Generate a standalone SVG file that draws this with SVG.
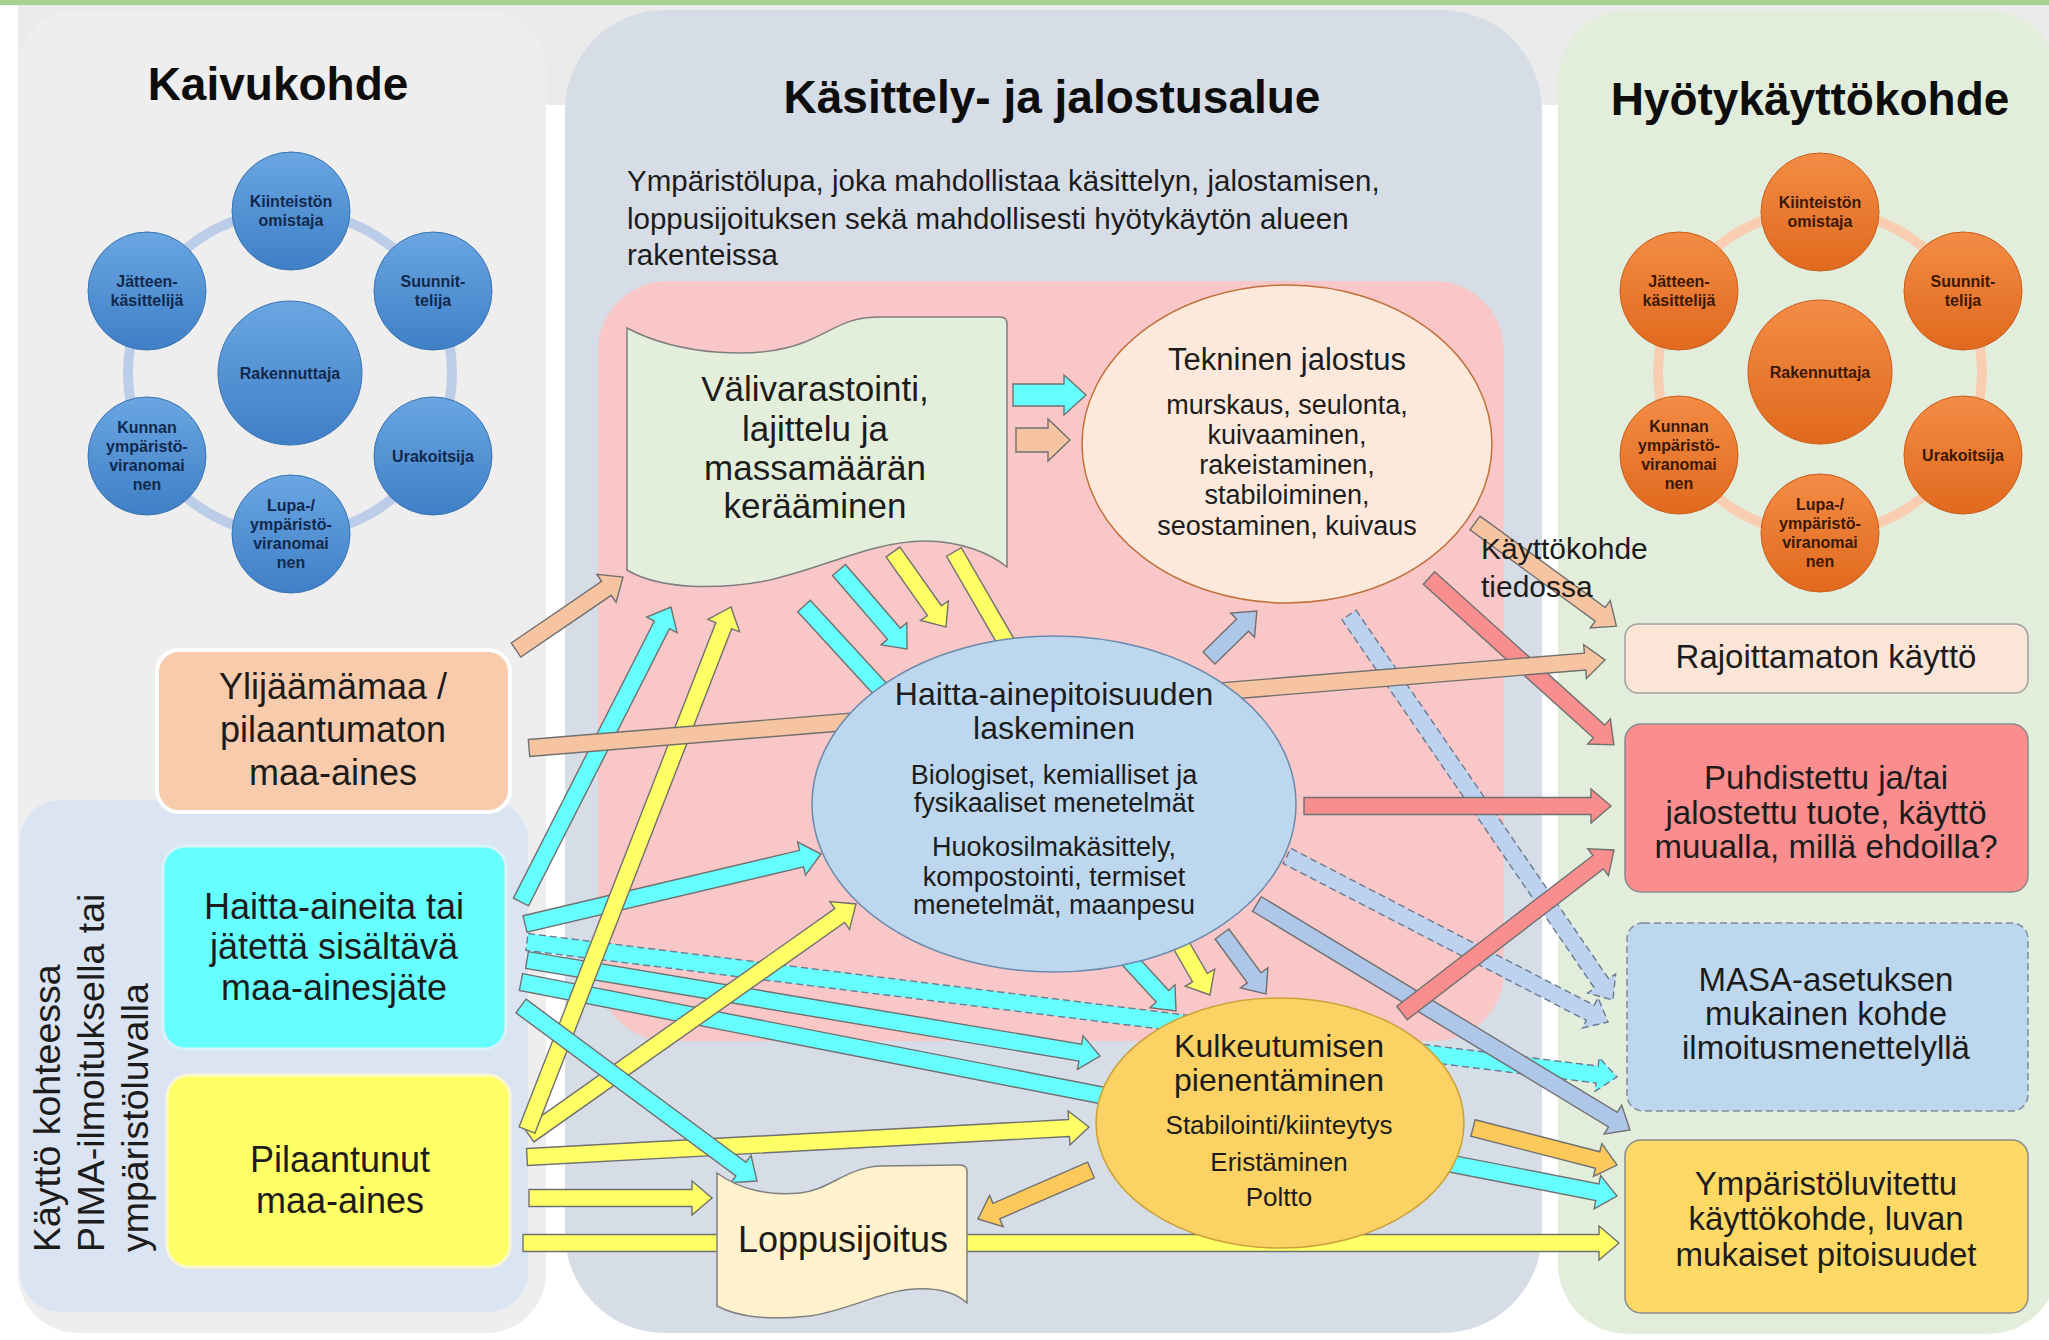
<svg xmlns="http://www.w3.org/2000/svg" width="2049" height="1340" viewBox="0 0 2049 1340">
<defs>
<linearGradient id="gb" x1="0" y1="0" x2="0" y2="1"><stop offset="0" stop-color="#6aa6e2"/><stop offset="1" stop-color="#3f7fc6"/></linearGradient>
<linearGradient id="gor" x1="0" y1="0" x2="0" y2="1"><stop offset="0" stop-color="#f48c45"/><stop offset="1" stop-color="#e0691e"/></linearGradient>
<style>
text{font-family:"Liberation Sans",Arial,sans-serif;fill:#1c1c1c}
.h{font-weight:bold;font-size:46px;text-anchor:middle;fill:#0d0d0d}
.c{font-size:16px;font-weight:bold;text-anchor:middle}
.cb{fill:#11294d}
.co{fill:#3b1805}
.m{text-anchor:middle}
.bc{fill:url(#gb);stroke:#3a73b0;stroke-width:1}
.oc{fill:url(#gor);stroke:#c85f1c;stroke-width:1}
.a{stroke:#707070;stroke-width:1.4;stroke-linejoin:miter}
.d{stroke-dasharray:7 4;stroke:#6b7a90}
.cy{fill:#66ffff}
.ye{fill:#ffff66}
.pe{fill:#f6c4a0}
.pk{fill:#f88e8e}
.lb{fill:#aec6e7}
.lbd{fill:#bcd2ee}
.gd{fill:#fdc95b}
.b36{font-size:36px;text-anchor:middle}
.b33{font-size:33px;text-anchor:middle}
</style>
</defs>

<!-- background -->
<rect x="0" y="0" width="2049" height="1340" fill="#ffffff"/>
<rect x="18" y="4" width="2031" height="101" fill="#ebebeb"/>
<rect x="0" y="0" width="2049" height="5" fill="#a9d18e"/>

<!-- panels -->
<g id="panel-kaivukohde">
<rect x="18" y="10" width="528" height="1323" rx="60" fill="#eeeeee"/>
<text class="h" x="278" y="100">Kaivukohde</text>
</g>
<g id="panel-kasittely">
<rect x="565" y="10" width="977" height="1323" rx="100" fill="#d7dde7"/>
<text class="h" x="1052" y="113">Käsittely- ja jalostusalue</text>
<text x="627" y="191" font-size="29.5" fill="#333">Ympäristölupa, joka mahdollistaa käsittelyn, jalostamisen,</text>
<text x="627" y="229" font-size="29.5" fill="#333">loppusijoituksen sekä mahdollisesti hyötykäytön alueen</text>
<text x="627" y="265" font-size="29.5" fill="#333">rakenteissa</text>
<rect x="598" y="281" width="906" height="760" rx="70" fill="#f9c7c7"/>
</g>
<g id="panel-hyotykaytto">
<rect x="1558" y="10" width="500" height="1324" rx="70" fill="#e2eedb"/>
<text class="h" x="1810" y="115">Hyötykäyttökohde</text>
</g>

<!-- left actor cluster -->
<g id="actors-kaivukohde">
<circle cx="290" cy="373" r="162" fill="none" stroke="#bccde9" stroke-width="10"/>
<circle class="bc" cx="291" cy="211" r="59"/>
<text class="c cb" x="291" y="207">Kiinteistön</text><text class="c cb" x="291" y="226">omistaja</text>
<circle class="bc" cx="433" cy="291" r="59"/>
<text class="c cb" x="433" y="287">Suunnit-</text><text class="c cb" x="433" y="306">telija</text>
<circle class="bc" cx="433" cy="456" r="59"/>
<text class="c cb" x="433" y="462">Urakoitsija</text>
<circle class="bc" cx="291" cy="534" r="59"/>
<text class="c cb" x="291" y="511">Lupa-/</text><text class="c cb" x="291" y="530">ympäristö-</text><text class="c cb" x="291" y="549">viranomai</text><text class="c cb" x="291" y="568">nen</text>
<circle class="bc" cx="147" cy="456" r="59"/>
<text class="c cb" x="147" y="433">Kunnan</text><text class="c cb" x="147" y="452">ympäristö-</text><text class="c cb" x="147" y="471">viranomai</text><text class="c cb" x="147" y="490">nen</text>
<circle class="bc" cx="147" cy="291" r="59"/>
<text class="c cb" x="147" y="287">Jätteen-</text><text class="c cb" x="147" y="306">käsittelijä</text>
<circle class="bc" cx="290" cy="373" r="72"/>
<text class="c cb" x="290" y="379">Rakennuttaja</text>
</g>

<!-- right actor cluster -->
<g id="actors-hyotykaytto">
<circle cx="1820" cy="372" r="162" fill="none" stroke="#f8cdb2" stroke-width="10"/>
<circle class="oc" cx="1820" cy="212" r="59"/>
<text class="c co" x="1820" y="208">Kiinteistön</text><text class="c co" x="1820" y="227">omistaja</text>
<circle class="oc" cx="1963" cy="291" r="59"/>
<text class="c co" x="1963" y="287">Suunnit-</text><text class="c co" x="1963" y="306">telija</text>
<circle class="oc" cx="1963" cy="455" r="59"/>
<text class="c co" x="1963" y="461">Urakoitsija</text>
<circle class="oc" cx="1820" cy="533" r="59"/>
<text class="c co" x="1820" y="510">Lupa-/</text><text class="c co" x="1820" y="529">ympäristö-</text><text class="c co" x="1820" y="548">viranomai</text><text class="c co" x="1820" y="567">nen</text>
<circle class="oc" cx="1679" cy="455" r="59"/>
<text class="c co" x="1679" y="432">Kunnan</text><text class="c co" x="1679" y="451">ympäristö-</text><text class="c co" x="1679" y="470">viranomai</text><text class="c co" x="1679" y="489">nen</text>
<circle class="oc" cx="1679" cy="291" r="59"/>
<text class="c co" x="1679" y="287">Jätteen-</text><text class="c co" x="1679" y="306">käsittelijä</text>
<circle class="oc" cx="1820" cy="372" r="72"/>
<text class="c co" x="1820" y="378">Rakennuttaja</text>
</g>

<!-- left sub-panel -->
<g id="kaytto-kohteessa">
<rect x="20" y="800" width="508" height="512" rx="40" fill="#dae4f2"/>
<text font-size="37.5" transform="translate(60,1252) rotate(-90)">Käyttö kohteessa</text>
<text font-size="37.5" transform="translate(104,1252) rotate(-90)">PIMA-ilmoituksella tai</text>
<text font-size="37.5" transform="translate(148,1252) rotate(-90)">ympäristöluvalla</text>
</g>

<!-- connectors -->
<g id="connectors">
<path class="a cy d" transform="translate(527,942) rotate(7.06)" d="M0,-8.5H1078.3V-17L1098.3,0L1078.3,17V8.5H0Z"/>
<path class="a cy" transform="translate(521,982) rotate(11.05)" d="M0,-8.5H1096.7V-17L1116.7,0L1096.7,17V8.5H0Z"/>
<path class="a cy" transform="translate(527,960) rotate(9.51)" d="M0,-8.5H561V-17L581,0L561,17V8.5H0Z"/>
<path class="a cy" transform="translate(521,902) rotate(-63.05)" d="M0,-8.5H310.9V-17L330.9,0L310.9,17V8.5H0Z"/>
<path class="a cy" transform="translate(525,924) rotate(-13.3)" d="M0,-8.5H284.2V-17L304.2,0L284.2,17V8.5H0Z"/>
<path class="a cy" transform="translate(804,606) rotate(47.43)" d="M0,-8.5H529.9V-17L549.9,0L529.9,17V8.5H0Z"/>
<path class="a cy" transform="translate(839,570) rotate(49.27)" d="M0,-8.5H84.2V-17L104.2,0L84.2,17V8.5H0Z"/>
<path class="a lbd d" transform="translate(1349,615) rotate(55.57)" d="M0,-8.5H446.8V-17L466.8,0L446.8,17V8.5H0Z"/>
<path class="a lbd d" transform="translate(1287,856) rotate(27.34)" d="M0,-8.5H341.4V-17L361.4,0L341.4,17V8.5H0Z"/>
<path class="a lb" transform="translate(1257,904) rotate(31.21)" d="M0,-8.5H416.1V-17L436.1,0L416.1,17V8.5H0Z"/>
<path class="a lb" transform="translate(1209,658) rotate(-44.4)" d="M0,-8.5H47V-17L67,0L47,17V8.5H0Z" fill="#8fb4e2"/>
<path class="a lb" transform="translate(1222,934) rotate(53.7)" d="M0,-8.5H54.4V-17L74.4,0L54.4,17V8.5H0Z"/>
<path class="a ye" transform="translate(523,1243)" d="M0,-8.5H1076V-17L1096,0L1076,17V8.5H0Z"/>
<path class="a ye" transform="translate(529,1198)" d="M0,-8.5H163V-17L183,0L163,17V8.5H0Z"/>
<path class="a ye" transform="translate(527,1157) rotate(-3.06)" d="M0,-8.5H542.8V-17L562.8,0L542.8,17V8.5H0Z"/>
<path class="a ye" transform="translate(529,1135) rotate(-35.24)" d="M0,-8.5H380.4V-17L400.4,0L380.4,17V8.5H0Z"/>
<path class="a ye" transform="translate(527,1130) rotate(-68.69)" d="M0,-8.5H541.4V-17L561.4,0L541.4,17V8.5H0Z"/>
<path class="a ye" transform="translate(893,552) rotate(54.75)" d="M0,-8.5H71.8V-17L91.8,0L71.8,17V8.5H0Z"/>
<path class="a ye" transform="translate(954,552) rotate(59.98)" d="M0,-8.5H491.6V-17L511.6,0L491.6,17V8.5H0Z"/>
<path class="a cy" transform="translate(521,1006) rotate(36.56)" d="M0,-8.5H273.8V-17L293.8,0L273.8,17V8.5H0Z"/>
<path class="a pk" transform="translate(1429,578) rotate(42.07)" d="M0,-8.5H229V-17L249,0L229,17V8.5H0Z"/>
<path class="a pk" transform="translate(1304,806)" d="M0,-8.5H287V-17L307,0L287,17V8.5H0Z"/>
<path class="a pk" transform="translate(1402,1013) rotate(-37.56)" d="M0,-8.5H247.4V-17L267.4,0L247.4,17V8.5H0Z"/>
<path class="a pe" transform="translate(529,748) rotate(-4.68)" d="M0,-8.5H1059.6V-17L1079.6,0L1059.6,17V8.5H0Z"/>
<path class="a pe" transform="translate(516,650) rotate(-34.3)" d="M0,-8.5H109.5V-17L129.5,0L109.5,17V8.5H0Z"/>
<path class="a pe" transform="translate(1475,523) rotate(36.1)" d="M0,-8.5H155V-17L175,0L155,17V8.5H0Z"/>
<path class="a pe" transform="translate(1016,440)" d="M0,-12H32V-21L54,0L32,21V12H0Z"/>
<path class="a cy" transform="translate(1013,395)" d="M0,-11H51V-20L73,0L51,20V11H0Z"/>
<path class="a gd" transform="translate(1473,1128) rotate(14.41)" d="M0,-8.5H128.7V-17L148.7,0L128.7,17V8.5H0Z"/>
<path class="a gd" transform="translate(1091,1170) rotate(156.55)" d="M0,-8.5H103.2V-17L123.2,0L103.2,17V8.5H0Z"/>
</g>

<!-- source boxes -->
<g id="ylijaamamaa">
<rect x="157" y="650" width="353" height="162" rx="22" fill="#f8cbad" stroke="#ffffff" stroke-width="4"/>
<text class="b36" x="333" y="699">Ylijäämämaa /</text>
<text class="b36" x="333" y="742">pilaantumaton</text>
<text class="b36" x="333" y="785">maa-aines</text>
</g>
<g id="haitta-aineita">
<rect x="163" y="846" width="343" height="203" rx="22" fill="#66ffff" stroke="#d8f2f5" stroke-width="3"/>
<text class="b36" x="334" y="919" fill="#0e3b4a">Haitta-aineita tai</text>
<text class="b36" x="334" y="959" fill="#0e3b4a">jätettä sisältävä</text>
<text class="b36" x="334" y="1000" fill="#0e3b4a">maa-ainesjäte</text>
</g>
<g id="pilaantunut">
<rect x="167" y="1075" width="343" height="192" rx="22" fill="#ffff66" stroke="#fbf7cf" stroke-width="3"/>
<text class="b36" x="340" y="1172">Pilaantunut</text>
<text class="b36" x="340" y="1213">maa-aines</text>
</g>

<!-- processing nodes -->
<g id="valivarastointi">
<path d="M627,328 C680,356 760,360 805,342 C835,330 845,317 880,317 L1000,317 Q1007,317 1007,324 V567 C990,553 960,541 925,541 C870,542 830,566 770,580 C720,590 660,590 627,570 Z" fill="#e3eedb" stroke="#7f7f7f" stroke-width="1.5"/>
<text x="815" y="401" font-size="35" class="m">Välivarastointi,</text>
<text x="815" y="441" font-size="35" class="m">lajittelu ja</text>
<text x="815" y="480" font-size="35" class="m">massamäärän</text>
<text x="815" y="518" font-size="35" class="m">kerääminen</text>
</g>
<g id="tekninen-jalostus">
<ellipse cx="1287" cy="444" rx="205" ry="159" fill="#fce9dc" stroke="#c0703a" stroke-width="1.5"/>
<text x="1287" y="370" font-size="31" class="m">Tekninen jalostus</text>
<text x="1287" y="414" font-size="27" class="m">murskaus, seulonta,</text>
<text x="1287" y="444" font-size="27" class="m">kuivaaminen,</text>
<text x="1287" y="474" font-size="27" class="m">rakeistaminen,</text>
<text x="1287" y="504" font-size="27" class="m">stabiloiminen,</text>
<text x="1287" y="535" font-size="27" class="m">seostaminen, kuivaus</text>
</g>
<g id="haitta-ainepitoisuus">
<ellipse cx="1054" cy="804" rx="242" ry="168" fill="#bdd7ee" stroke="#6a89ad" stroke-width="1.5"/>
<text x="1054" y="705" font-size="32" class="m">Haitta-ainepitoisuuden</text>
<text x="1054" y="739" font-size="32" class="m">laskeminen</text>
<text x="1054" y="784" font-size="27" class="m">Biologiset, kemialliset ja</text>
<text x="1054" y="812" font-size="27" class="m">fysikaaliset menetelmät</text>
<text x="1054" y="856" font-size="27" class="m">Huokosilmakäsittely,</text>
<text x="1054" y="886" font-size="27" class="m">kompostointi, termiset</text>
<text x="1054" y="914" font-size="27" class="m">menetelmät, maanpesu</text>
</g>
<g id="kulkeutuminen">
<ellipse cx="1280" cy="1123" rx="184" ry="125" fill="#fdd264" stroke="#c9a23a" stroke-width="1.5"/>
<text x="1279" y="1057" font-size="32" class="m">Kulkeutumisen</text>
<text x="1279" y="1091" font-size="32" class="m">pienentäminen</text>
<text x="1279" y="1134" font-size="26" class="m">Stabilointi/kiinteytys</text>
<text x="1279" y="1171" font-size="26" class="m">Eristäminen</text>
<text x="1279" y="1206" font-size="26" class="m">Poltto</text>
</g>
<g id="loppusijoitus">
<path d="M717,1173 C740,1190 770,1196 800,1193 C830,1190 845,1168 880,1166 L960,1165 Q967,1165 967,1172 V1303 C955,1292 935,1288 915,1289 C880,1291 850,1310 810,1316 C770,1320 740,1318 717,1306 Z" fill="#fff2cc" stroke="#7f7f7f" stroke-width="1.5"/>
<text x="843" y="1252" font-size="36" class="m">Loppusijoitus</text>
</g>

<g id="kayttokohde-tiedossa">
<text x="1481" y="559" font-size="30" fill="#2a2a2a">Käyttökohde</text>
<text x="1481" y="597" font-size="30" fill="#2a2a2a">tiedossa</text>
</g>

<!-- target boxes -->
<g id="rajoittamaton">
<rect x="1625" y="624" width="403" height="69" rx="13" fill="#fbe5d6" stroke="#a0a0a0" stroke-width="1.5"/>
<text class="b33" x="1826" y="668">Rajoittamaton käyttö</text>
</g>
<g id="puhdistettu">
<rect x="1625" y="724" width="403" height="168" rx="16" fill="#fa8d8d" stroke="#8a8a8a" stroke-width="1.5"/>
<text class="b33" x="1826" y="789" fill="#3b1e1e">Puhdistettu ja/tai</text>
<text class="b33" x="1826" y="824" fill="#3b1e1e">jalostettu tuote, käyttö</text>
<text class="b33" x="1826" y="858" fill="#3b1e1e">muualla, millä ehdoilla?</text>
</g>
<g id="masa">
<rect x="1627" y="923" width="401" height="188" rx="16" fill="#bdd7ee" stroke="#7f8c9d" stroke-width="1.5" stroke-dasharray="7 4"/>
<text class="b33" x="1826" y="991">MASA-asetuksen</text>
<text class="b33" x="1826" y="1025">mukainen kohde</text>
<text class="b33" x="1826" y="1059">ilmoitusmenettelyllä</text>
</g>
<g id="ymparistoluvitettu">
<rect x="1625" y="1140" width="403" height="173" rx="16" fill="#ffd966" stroke="#8a8a8a" stroke-width="1.5"/>
<text class="b33" x="1826" y="1195">Ympäristöluvitettu</text>
<text class="b33" x="1826" y="1230">käyttökohde, luvan</text>
<text class="b33" x="1826" y="1266">mukaiset pitoisuudet</text>
</g>
</svg>
